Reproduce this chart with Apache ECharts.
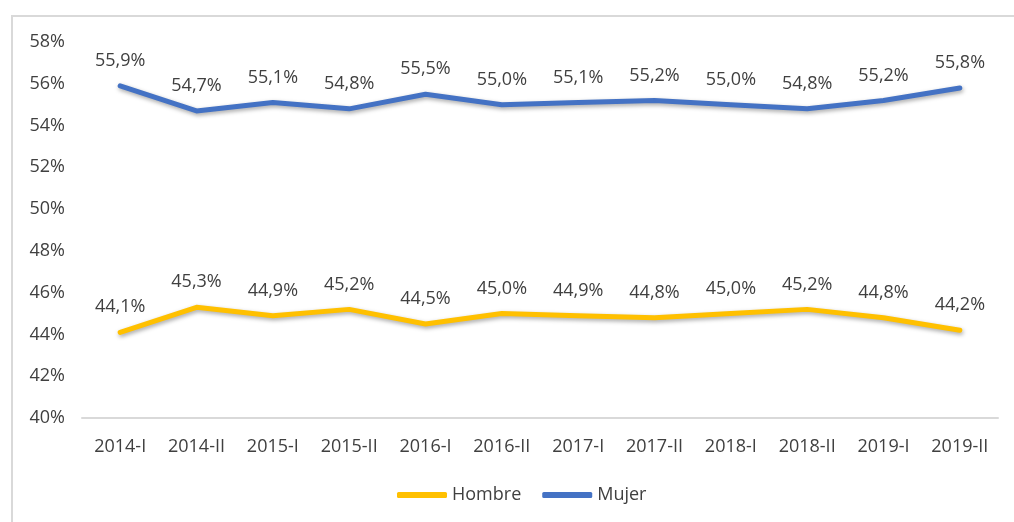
<!DOCTYPE html>
<html><head><meta charset="utf-8">
<script src="https://cdn.jsdelivr.net/npm/echarts@6/dist/echarts.min.js"></script>
<style>html,body{margin:0;padding:0;background:#fff}#c{width:1014px;height:522px;position:relative}
#b{position:absolute;left:11px;top:15px;width:1010px;height:520px;border:2px solid #d9d9d9;box-sizing:border-box;pointer-events:none}</style>
</head><body><div id="c"></div><div id="b"></div>
<script>
const categories = ['2014-I','2014-II','2015-I','2015-II','2016-I','2016-II','2017-I','2017-II','2018-I','2018-II','2019-I','2019-II'];
const hombre = [44.1,45.3,44.9,45.2,44.5,45.0,44.9,44.8,45.0,45.2,44.8,44.2];
const mujer = [55.9,54.7,55.1,54.8,55.5,55.0,55.1,55.2,55.0,54.8,55.2,55.8];
const font = '"Open Sans", sans-serif';
const chart = echarts.init(document.getElementById('c'), null, {renderer:'canvas'});
const lbl = {show:true, position:'top', distance:15, color:'#404040', fontSize:18, fontFamily:font,
  formatter: p => p.value.toFixed(1).replace('.', ',') + '%'};
function ser(name, data, color){
  return {name, type:'line', data, symbol:'circle', symbolSize:2, showSymbol:true,
    lineStyle:{width:5, color, cap:'round', join:'round', shadowColor:'rgba(0,0,0,0.35)', shadowBlur:4, shadowOffsetX:1, shadowOffsetY:2},
    itemStyle:{color}, label:lbl};
}
chart.setOption({
  animation:false,
  grid:{left:82, right:16, top:42, bottom:104},
  legend:{top:481, left:392, itemWidth:50, itemHeight:6, itemGap:21, icon:'roundRect',
    textStyle:{color:'#404040', fontSize:18, fontFamily:font}, data:['Hombre','Mujer']},
  xAxis:{type:'category', data:categories, boundaryGap:true,
    axisLine:{lineStyle:{color:'#d9d9d9', width:2}}, axisTick:{show:false},
    axisLabel:{color:'#404040', fontSize:18, fontFamily:font, margin:20, interval:0}},
  yAxis:{type:'value', min:40, max:58, interval:2,
    axisLine:{show:false}, axisTick:{show:false}, splitLine:{show:false},
    axisLabel:{color:'#404040', fontSize:18, fontFamily:font, margin:17, formatter: v => v + '%'}},
  series:[ser('Hombre', hombre, '#FFC000'), ser('Mujer', mujer, '#4472C4')]
});
</script></body></html>
